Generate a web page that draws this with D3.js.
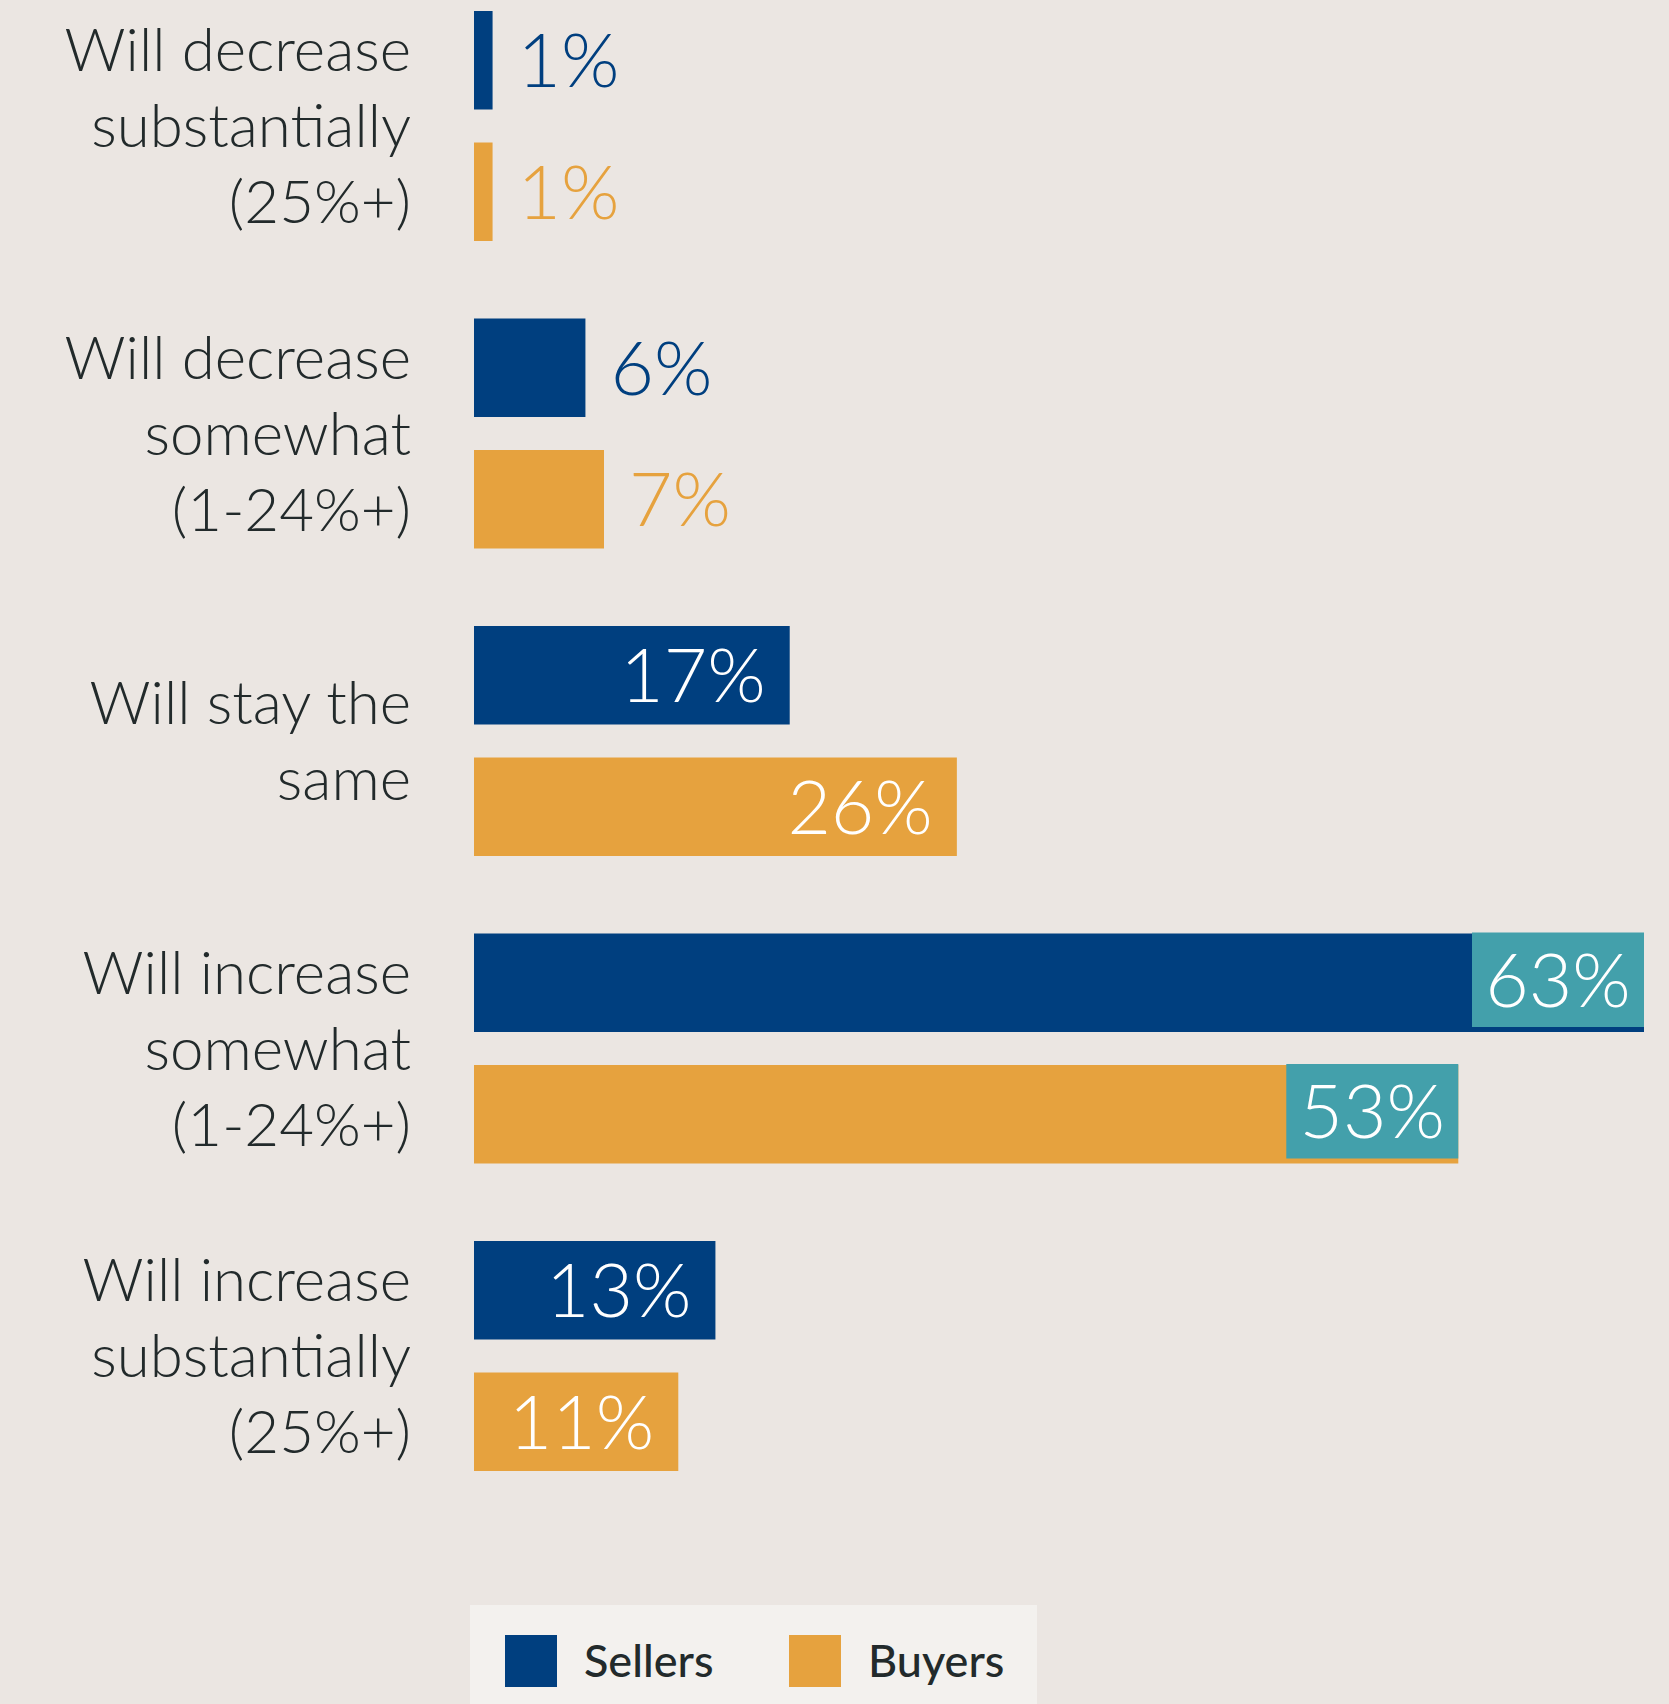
<!DOCTYPE html>
<html>
<head>
<meta charset="utf-8">
<script src="https://cdn.jsdelivr.net/npm/d3@7"></script>
<style>
  html, body { margin: 0; padding: 0; background: #ebe6e2; }
  svg { display: block; }
</style>
</head>
<body>
<svg id="chart"></svg>
<script>
// data
const categories = [
  "Will decrease substantially (25%+)",
  "Will decrease somewhat (1-24%+)",
  "Will stay the same",
  "Will increase somewhat (1-24%+)",
  "Will increase substantially (25%+)"
];
const categoryLines = [
  ["Will decrease", "substantially", "(25%+)"],
  ["Will decrease", "somewhat", "(1-24%+)"],
  ["Will stay the", "same"],
  ["Will increase", "somewhat", "(1-24%+)"],
  ["Will increase", "substantially", "(25%+)"]
];
const seriesNames = ["Sellers", "Buyers"];
const sellers = [1, 6, 17, 63, 13];
const buyers = [1, 7, 26, 53, 11];
const highlighted = [false, false, false, true, false];

const width = 1669, height = 1704;
const colors = { Sellers: "#003f7f", Buyers: "#e6a23e" };
const highlightColor = "#43a0ab";
const textColor = "#222a2b";
const font = "Lato, 'Noto Sans', sans-serif";

const svg = d3.select("#chart").attr("width", width).attr("height", height);

svg.append("rect")
  .attr("width", width).attr("height", height)
  .attr("fill", "#ebe6e2");

// scales
const x = d3.scaleLinear().domain([0, 63]).range([474, 1644]);
const y = d3.scaleBand().domain(categories).range([11, 11 + 5 * 307.5]);
const ySeries = d3.scaleBand().domain(seriesNames).range([0, 230]).paddingInner(0.251);

const rows = categories.map((c, i) => ({
  category: c,
  lines: categoryLines[i],
  highlight: highlighted[i],
  values: [
    { series: "Sellers", value: sellers[i] },
    { series: "Buyers", value: buyers[i] }
  ]
}));

const groups = svg.selectAll(".group")
  .data(rows)
  .enter()
  .append("g")
  .attr("class", "group")
  .attr("transform", (d) => `translate(0,${y(d.category)})`);

// category labels, centered on the pair of bars
const lineH = 76;
groups.append("text")
  .attr("text-anchor", "end")
  .attr("fill", textColor)
  .style("font-family", font)
  .style("font-weight", 300)
  .style("font-size", "60px")
  .selectAll("tspan")
  .data((d) => d.lines.map((l, i) => ({ l, i, n: d.lines.length })))
  .enter()
  .append("tspan")
  .attr("x", 411)
  .attr("y", (t) => 115 + (t.i - (t.n - 1) / 2) * lineH)
  .attr("dy", "0.35em")
  .text((t) => t.l);

// bars
const bars = groups.selectAll(".bar")
  .data((d) => d.values.map((v) => ({ ...v, highlight: d.highlight })))
  .enter()
  .append("g")
  .attr("class", "bar")
  .attr("transform", (d) => `translate(0,${ySeries(d.series)})`);

const bw = ySeries.bandwidth();

bars.append("rect")
  .attr("x", x(0))
  .attr("y", 0)
  .attr("width", (d) => x(d.value) - x(0))
  .attr("height", bw)
  .attr("fill", (d) => colors[d.series]);

// teal highlight box for the biggest group
const boxW = 172;
bars.filter((d) => d.highlight)
  .append("rect")
  .attr("x", (d) => x(d.value) - boxW)
  .attr("y", -1)
  .attr("width", boxW)
  .attr("height", bw - 4)
  .attr("fill", highlightColor);

// value labels
bars.append("text")
  .attr("x", (d) => {
    if (d.highlight) return x(d.value) - boxW / 2;
    return d.value >= 10 ? x(d.value) - 24 : x(d.value) + 25;
  })
  .attr("y", (d) => (d.highlight ? (bw - 4) / 2 - 1 : bw / 2))
  .attr("dy", "0.36em")
  .attr("text-anchor", (d) => (d.highlight ? "middle" : d.value >= 10 ? "end" : "start"))
  .attr("fill", (d) => (d.value >= 10 ? "#fff" : colors[d.series]))
  .style("font-family", font)
  .style("font-weight", 300)
  .style("font-size", "75px")
  .text((d) => d.value + "%");

// legend
const legend = svg.append("g");
legend.append("rect")
  .attr("x", 470).attr("y", 1605)
  .attr("width", 567).attr("height", 99)
  .attr("fill", "#f3f1ee");

const legendX = d3.scaleOrdinal().domain(seriesNames).range([505, 789]);
const items = legend.selectAll(".item")
  .data(seriesNames)
  .enter()
  .append("g")
  .attr("class", "item")
  .attr("transform", (d) => `translate(${legendX(d)},1635)`);

items.append("rect")
  .attr("width", 52).attr("height", 52)
  .attr("fill", (d) => colors[d]);

items.append("text")
  .attr("x", 79)
  .attr("y", 26)
  .attr("dy", "0.36em")
  .attr("fill", textColor)
  .style("font-family", font)
  .style("font-weight", 500)
  .style("font-size", "45px")
  .text((d) => d);
</script>
</body>
</html>
